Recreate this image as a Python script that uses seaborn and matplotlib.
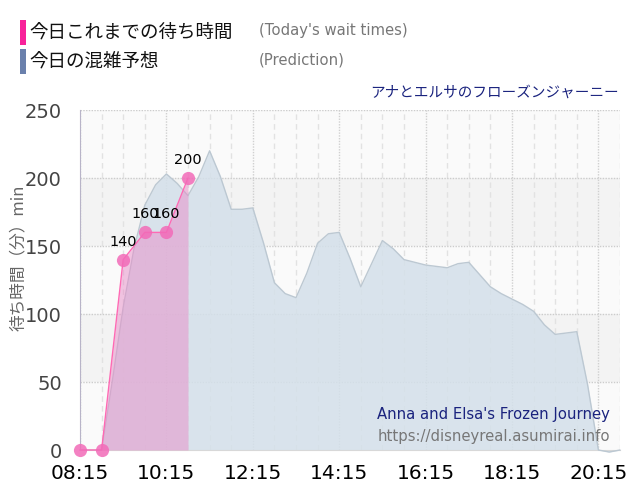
import matplotlib
matplotlib.use("Agg")
import matplotlib.pyplot as plt
from matplotlib.patches import Rectangle
import pandas as pd
import seaborn as sns

# 今日の待ち時間 (実績)
actual_min = [0, 30, 60, 90, 120, 150]
actual_wait = [0, 0, 140, 160, 160, 200]

# 混雑予想 (15分おき)
pred_min = list(range(0, 765, 15))
pred_wait = [0, 0, 0, 51, 105, 148, 180, 195, 203, 196, 187, 201, 220, 201, 177, 177, 178,
             152, 123, 115, 112, 130, 152, 159, 160, 141, 120, 137, 154, 148, 140, 138, 136,
             135, 134, 137, 138, 129, 120, 115, 111, 107, 102, 92, 85, 86, 87, 48, 0, -1.5, 0]

tick_min = [0, 120, 240, 360, 480, 600, 720]
tick_labels = ["08:15", "10:15", "12:15", "14:15", "16:15", "18:15", "20:15"]
minor_min = [30, 60, 90, 150, 180, 210, 270, 300, 330, 390, 420, 450, 510, 540, 570, 630, 660, 690, 750]
y_ticks = [0, 50, 100, 150, 200, 250]

df_actual = pd.DataFrame({"min": actual_min, "wait": actual_wait})
df_pred = pd.DataFrame({"min": pred_min, "wait": pred_wait})

sns.set_style("white")
JP = ["Noto Sans CJK JP", "DejaVu Sans"]
W, H = 640, 500

fig = plt.figure(figsize=(6.4, 5), dpi=100)
ax = fig.add_axes([80 / W, 1 - 450 / H, 540 / W, 340 / H])

# 背景の帯
for i in range(5):
    col = "#f3f3f3" if i % 2 == 1 else "#fafafa"
    ax.axhspan(i * 50, (i + 1) * 50, color=col, lw=0, zorder=0)

# グリッド
for m in tick_min:
    ax.axvline(m, color="#d0d0d0", lw=1, ls=(0, (1, 1)), zorder=1)
for m in minor_min:
    ax.axvline(m, color="#e2e2e2", lw=1, ls=(0, (4, 3)), zorder=1)
for v in y_ticks[1:]:
    ax.axhline(v, color="#cccccc", lw=1, ls=(0, (1, 1)), zorder=1)

# 予想と実績の面
ax.fill_between(df_pred["min"], df_pred["wait"], 0, color="#d4e0ea", alpha=0.85, lw=0, zorder=2, clip_on=False)
sns.lineplot(data=df_pred, x="min", y="wait", color="#bcc8d2", lw=1, ax=ax, zorder=3, clip_on=False)
ax.fill_between(df_actual["min"], df_actual["wait"], 0, color="#e88cc8", alpha=0.5, lw=0, zorder=4)

sns.lineplot(data=df_actual, x="min", y="wait", color="#ff69b4", lw=1, ax=ax, zorder=5,
             marker="o", markersize=9.5, markerfacecolor=(0.95, 0.42, 0.72, 0.85),
             markeredgecolor="none", clip_on=False)

for m, v in zip(actual_min[2:], actual_wait[2:]):
    ax.annotate(str(v), (m, v), xytext=(0, 13), textcoords="offset points", ha="center", va="center",
                fontsize=10.4, color="black", zorder=6)

ax.set_xlim(0, 750)
ax.set_ylim(0, 250)
ax.set_xticks(tick_min)
ax.set_xticklabels(tick_labels, fontsize=14.5, color="black")
ax.set_yticks(y_ticks)
ax.set_yticklabels(y_ticks, fontsize=14, color="#444444")
ax.tick_params(axis="x", length=8, color="#e6e6e6", pad=2, width=1)
ax.tick_params(axis="y", length=12, color="#e6e6e6", pad=1, width=1)
ax.set_xlabel("")
ax.set_ylabel("")
for s in ["top", "right"]:
    ax.spines[s].set_visible(False)
ax.spines["left"].set_color("#b8b4c8")
ax.spines["bottom"].set_color("#d8d8d8")


def put(px, py, txt, **kw):
    fig.text(px / W, 1 - py / H, txt, va="center", **kw)


# 凡例
fig.add_artist(Rectangle((20 / W, 1 - 45 / H), 6 / W, 25 / H, color="#f8229a", lw=0))
fig.add_artist(Rectangle((20 / W, 1 - 74 / H), 6 / W, 25 / H, color="#6a80ac", lw=0))
put(29, 33, "今日これまでの待ち時間", fontsize=13.3, family=JP, color="#111111")
put(29, 62, "今日の混雑予想", fontsize=13.3, family=JP, color="#111111")
put(259, 31, "(Today's wait times)", fontsize=10.7, color="#777777")
put(259, 60, "(Prediction)", fontsize=10.7, color="#777777")

put(619, 93, "アナとエルサのフローズンジャーニー", fontsize=10.5, family=JP, color="#1a237e", ha="right")
put(610, 415, "Anna and Elsa's Frozen Journey", fontsize=10.75, color="#1a237e", ha="right")
put(610, 436, "https://disneyreal.asumirai.info", fontsize=10.75, color="#777777", ha="right")
put(18, 258, "待ち時間（分）min", fontsize=12, family=JP, color="#666666", rotation=90, ha="center")

fig.savefig("out.png", dpi=100)
